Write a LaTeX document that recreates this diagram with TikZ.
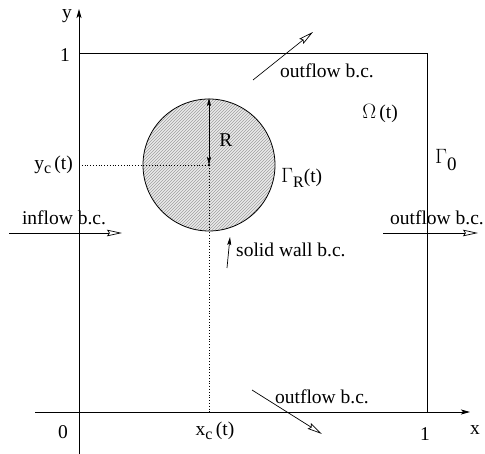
\documentclass[tikz,border=0pt]{standalone}
\usepackage{fontspec}
\setmainfont{Liberation Serif}
\usetikzlibrary{arrows.meta,patterns}
\begin{document}
\begin{tikzpicture}[x=1pt,y=-1pt,
  lbl/.style={inner sep=0pt,font=\fontsize{19.5}{22}\selectfont},
  bcarrow/.style={line width=0.7pt,-{Stealth[open,length=15pt,width=6.5pt,inset=2pt]}},
  axis/.style={line width=0.8pt,-{Stealth[length=9pt,width=5pt,inset=2pt]}},
  thin line/.style={line width=0.8pt},
  guide/.style={dotted,line width=0.8pt}]
\useasboundingbox (0,0) rectangle (485,454);
% axes
\coordinate (xs) at (35,412);
\coordinate (xe) at (470,412);
\coordinate (ys) at (79,454);
\coordinate (ye) at (79,9);
\draw[axis] (xs) -- (xe);
\draw[axis] (ys) -- (ye);
% box
\coordinate (tl) at (79,53);
\coordinate (tr) at (427,53);
\coordinate (br) at (427,412);
\draw[thin line] (tl) -- (tr) -- (br);
% circle
\coordinate (c) at (209,165);
\coordinate (ctop) at (209,98);
\fill[gray!16] (c) circle[radius=66];
\fill[pattern=north east lines,pattern color=gray!75] (c) circle[radius=66];
\draw[line width=0.8pt] (c) circle[radius=66];
\coordinate (yc) at (79,165);
\coordinate (xc) at (209,412);
\draw[guide] (yc) -- (c);
\draw[guide] (c) -- (xc);
\fill (c) circle[radius=1.3];
\draw[line width=0.7pt,{Stealth[length=8pt,width=4pt,inset=1.5pt]}-{Stealth[length=8pt,width=4pt,inset=1.5pt]}] (c) -- (ctop);
% labels
\node[lbl] (ylab) at (67,16) {y};
\node[lbl] (one1) at (65,55) {1};
\node[lbl,anchor=east] (yclab) at (73,165) {y\raisebox{-0.5ex}{\fontsize{16}{16}\selectfont c}\,(t)};
\node[lbl] (xclab) at (215,431) {x\raisebox{-0.5ex}{\fontsize{16}{16}\selectfont c}\,(t)};
\node[lbl] (zero) at (63,432) {0};
\node[lbl] (one2) at (425,434) {1};
\node[lbl] (xlab) at (475,430) {x};
\node[lbl] (Rlab) at (226,140) {R};
\node[lbl,anchor=west] (GR) at (281,178) {$\Gamma$\raisebox{-0.6ex}{\fontsize{16}{16}\selectfont R}(t)};
\node[lbl,anchor=west] (G0) at (435,160) {$\Gamma$\raisebox{-0.7ex}{\fontsize{19}{19}\selectfont 0}};
\node[lbl] (Om) at (380,113) {$\Omega$\,(t)};
% boundary conditions
\node[lbl] (otop) at (327,71) {outflow b.c.};
\node[lbl,anchor=east] (oright) at (484,218) {outflow b.c.};
\node[lbl] (inl) at (64,218) {inflow b.c.};
\node[lbl,anchor=west] (sw) at (236,250) {solid wall b.c.};
\node[lbl] (obot) at (322,397) {outflow b.c.};
\coordinate (a1s) at (253,80);  \coordinate (a1e) at (313,32);
\coordinate (a2s) at (383,233); \coordinate (a2e) at (478,233);
\coordinate (a3s) at (9,233);   \coordinate (a3e) at (122,233);
\coordinate (a4s) at (252,390); \coordinate (a4e) at (322,434);
\coordinate (a5s) at (227,268); \coordinate (a5e) at (230,237);
\draw[bcarrow] (a1s) -- (a1e);
\draw[bcarrow] (a2s) -- (a2e);
\draw[bcarrow] (a3s) -- (a3e);
\draw[bcarrow] (a4s) -- (a4e);
\draw[line width=0.7pt,-{Stealth[length=8pt,width=4pt,inset=1.5pt]}] (a5s) -- (a5e);
\end{tikzpicture}
\end{document}
